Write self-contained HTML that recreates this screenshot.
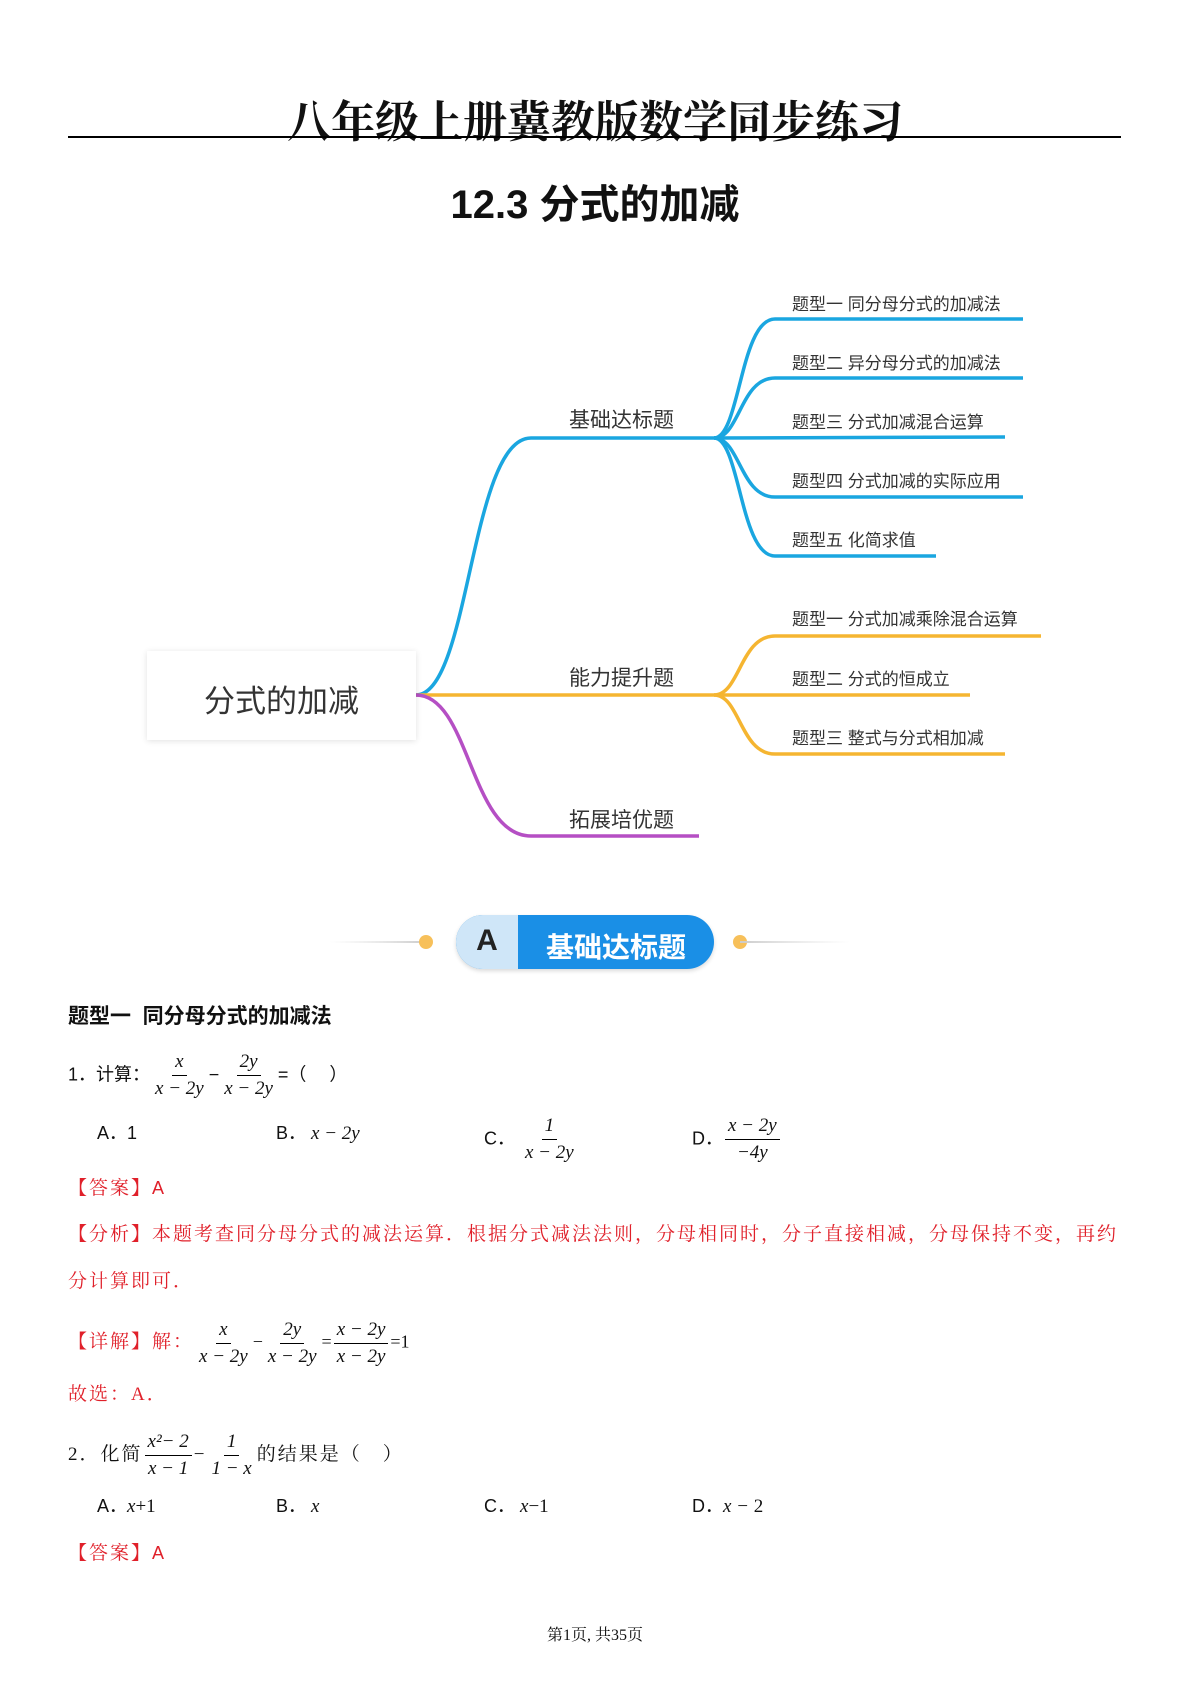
<!DOCTYPE html>
<html><head><meta charset="utf-8">
<style>
body{margin:0;width:1190px;height:1682px;background:#fff;position:relative;overflow:hidden;font-family:"Liberation Sans","Noto Sans CJK SC",sans-serif;color:#111}
.a{position:absolute;white-space:nowrap}
.t{font-family:"Liberation Serif","Noto Serif CJK SC",serif}
.m{font-family:"Liberation Serif",serif;font-style:italic;font-size:19px}
.fr{display:inline-flex;flex-direction:column;align-items:center;vertical-align:middle;font-family:"Liberation Serif",serif;font-style:italic;font-size:19px;line-height:26px;margin:0 2px}
.fr span:first-child{border-bottom:1px solid #000;padding:0 3px}
.fr span{padding:0 3px}
.red{color:#e0202a}
.q{font-size:18px;line-height:40px}
.rt{font-size:19px;letter-spacing:2px}
.lbl{font-size:17px;color:#333}
.mid{font-size:21px;color:#333}
</style></head><body>
<div class="a t" style="left:0;width:1190px;top:86px;text-align:center;font-size:44px;font-weight:bold;letter-spacing:0px">八年级上册冀教版数学同步练习</div>
<div class="a" style="left:68px;top:136px;width:1053px;height:2px;background:#000"></div>
<div class="a" style="left:0;width:1190px;top:172px;text-align:center;font-size:40px;font-weight:bold">12.3 分式的加减</div>

<svg class="a" style="left:0;top:0" width="1190" height="900" fill="none" stroke-width="3.5">
<g stroke="#1aa6e0">
<path d="M416 695 C470 695 470 438 531 438 L714 438"/>
<path d="M714 438 C740 438 740 319 775 319 L1023 319"/>
<path d="M714 438 C740 438 740 378 775 378 L1023 378"/>
<path d="M714 438 L1005 437"/>
<path d="M714 438 C740 438 740 497 775 497 L1023 497"/>
<path d="M714 438 C740 438 740 556 775 556 L936 556"/>
</g>
<g stroke="#f5b531">
<path d="M416 695 L714 695"/>
<path d="M714 695 C740 695 740 636 775 636 L1041 636"/>
<path d="M714 695 L970 695"/>
<path d="M714 695 C740 695 740 754 775 754 L1005 754"/>
</g>
<path stroke="#b54fc4" d="M416 695 C470 695 470 836 531 836 L699 836"/>
</svg>
<div class="a" style="left:147px;top:651px;width:269px;height:89px;background:#fff;box-shadow:0 1px 6px rgba(0,0,0,.12)"></div>
<div class="a" style="left:147px;top:676px;width:269px;text-align:center;font-size:31px;color:#333">分式的加减</div>
<div class="a mid" style="left:569px;top:404px">基础达标题</div>
<div class="a mid" style="left:569px;top:662px">能力提升题</div>
<div class="a mid" style="left:569px;top:804px">拓展培优题</div>
<div class="a lbl" style="left:792px;top:290px">题型一 同分母分式的加减法</div>
<div class="a lbl" style="left:792px;top:349px">题型二 异分母分式的加减法</div>
<div class="a lbl" style="left:792px;top:408px">题型三 分式加减混合运算</div>
<div class="a lbl" style="left:792px;top:467px">题型四 分式加减的实际应用</div>
<div class="a lbl" style="left:792px;top:526px">题型五 化简求值</div>
<div class="a lbl" style="left:792px;top:605px">题型一 分式加减乘除混合运算</div>
<div class="a lbl" style="left:792px;top:665px">题型二 分式的恒成立</div>
<div class="a lbl" style="left:792px;top:724px">题型三 整式与分式相加减</div>

<svg class="a" style="left:320px;top:930px" width="540" height="30">
<defs><linearGradient id="g1"><stop offset="0" stop-color="#ddd" stop-opacity="0"/><stop offset="1" stop-color="#ccc"/></linearGradient>
<linearGradient id="g2"><stop offset="0" stop-color="#ccc"/><stop offset="1" stop-color="#ddd" stop-opacity="0"/></linearGradient></defs>
<rect x="10" y="11" width="96" height="2" fill="url(#g1)"/>
<circle cx="106" cy="12" r="7" fill="#f7c05a"/>
<circle cx="420" cy="12" r="7" fill="#f7c05a"/>
<rect x="420" y="11" width="110" height="2" fill="url(#g2)"/>
</svg>
<div class="a" style="left:456px;top:915px;width:258px;height:54px;border-radius:27px;background:#1a8fe6;overflow:hidden;box-shadow:0 2px 4px rgba(0,0,0,.15)">
<div style="position:absolute;left:0;top:0;width:62px;height:54px;background:#cfe6f8"></div>
<div style="position:absolute;left:0;top:9px;width:62px;text-align:center;font-size:30px;font-weight:bold;color:#222">A</div>
<div style="position:absolute;left:62px;top:11px;width:196px;text-align:center;font-size:28px;font-weight:bold;color:#fff">基础达标题</div>
</div>

<div class="a" style="left:68px;top:1000px;font-size:21px;font-weight:bold">题型一&nbsp; 同分母分式的加减法</div>
<div class="a q" style="left:68px;top:1049px">1．计算：<span class="fr"><span>x</span><span>x − 2y</span></span>−<span class="fr"><span>2y</span><span>x − 2y</span></span>=（　 ）</div>
<div class="a q" style="left:97px;top:1113px">A．1</div>
<div class="a q" style="left:276px;top:1113px">B．&nbsp;<span class="m">x − 2y</span></div>
<div class="a q" style="left:484px;top:1113px">C．&nbsp;<span class="fr"><span>1</span><span>x − 2y</span></span></div>
<div class="a q" style="left:692px;top:1113px">D．<span class="fr"><span>x − 2y</span><span>−4y</span></span></div>
<div class="a q red t rt" style="left:68px;top:1168px">【答案】<span style="font-family:'Liberation Sans';font-size:18px">A</span></div>
<div class="a q red t rt" style="left:68px;top:1215px">【分析】本题考查同分母分式的减法运算．根据分式减法法则，分母相同时，分子直接相减，分母保持不变，再约</div>
<div class="a q red t rt" style="left:68px;top:1262px">分计算即可．</div>
<div class="a q t" style="left:68px;top:1317px"><span class="red rt">【详解】解：</span><span class="fr"><span>x</span><span>x − 2y</span></span>−<span class="fr"><span>2y</span><span>x − 2y</span></span>=<span class="fr"><span>x − 2y</span><span>x − 2y</span></span>=1</div>
<div class="a q red t rt" style="left:68px;top:1375px">故选：A．</div>
<div class="a q t rt" style="left:68px;top:1429px">2．化简<span class="fr" style="letter-spacing:0"><span>x²− 2</span><span>x − 1</span></span>−<span class="fr" style="letter-spacing:0"><span>1</span><span>1 − x</span></span>的结果是（　）</div>
<div class="a q" style="left:97px;top:1486px">A．<span class="m">x</span><span class="m" style="font-style:normal">+1</span></div>
<div class="a q" style="left:276px;top:1486px">B．&nbsp;<span class="m">x</span></div>
<div class="a q" style="left:484px;top:1486px">C．&nbsp;<span class="m">x</span><span class="m" style="font-style:normal">−1</span></div>
<div class="a q" style="left:692px;top:1486px">D．<span class="m">x − </span><span class="m" style="font-style:normal">2</span></div>
<div class="a q red t rt" style="left:68px;top:1533px">【答案】<span style="font-family:'Liberation Sans';font-size:18px">A</span></div>
<div class="a t" style="left:0;width:1190px;top:1622px;text-align:center;font-size:16px">第1页, 共35页</div>
</body></html>
